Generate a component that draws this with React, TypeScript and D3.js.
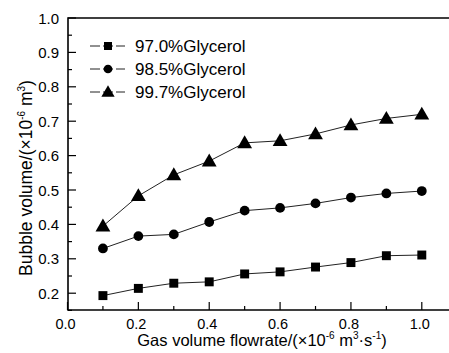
import React, { useEffect, useRef } from 'react';
import * as d3 from 'd3';

const flowrates = [0.1, 0.2, 0.3, 0.4, 0.5, 0.6, 0.7, 0.8, 0.9, 1.0];
const glycerol970 = [0.193, 0.214, 0.229, 0.233, 0.256, 0.262, 0.276, 0.289, 0.309, 0.311];
const glycerol985 = [0.330, 0.366, 0.371, 0.407, 0.440, 0.448, 0.461, 0.478, 0.490, 0.497];
const glycerol997 = [0.395, 0.483, 0.544, 0.584, 0.637, 0.643, 0.663, 0.689, 0.708, 0.720];
const seriesNames = ['97.0%Glycerol', '98.5%Glycerol', '99.7%Glycerol'];
const xTicks = [0.0, 0.2, 0.4, 0.6, 0.8, 1.0];
const yTicks = [0.2, 0.3, 0.4, 0.5, 0.6, 0.7, 0.8, 0.9, 1.0];

const W = 449;
const H = 353;

const App = () => {
  const svgRef = useRef<SVGSVGElement>(null);

  useEffect(() => {
    const svg = d3.select(svgRef.current);
    svg.selectAll('*').remove();

    const margin = { top: 18, right: -8, bottom: 43, left: 68 };
    const left = margin.left;
    const right = W - margin.right;
    const top = margin.top;
    const bottom = H - margin.bottom;

    const x = d3.scaleLinear().domain([0, 1]).range([67.5, 421.8]);
    const y = d3.scaleLinear().domain([0.2, 1.0]).range([293.2, 18]);

    const font = 'Liberation Sans, Arial, sans-serif';

    // frame
    svg.append('path')
      .attr('d', `M${right},${top}H${left}V${bottom}H${right}`)
      .attr('fill', 'none')
      .attr('stroke', '#000')
      .attr('stroke-width', 1.6);

    // y ticks (inward, major + minor)
    const yMinor = d3.range(0.15, 1.0001, 0.05);
    svg.append('g').selectAll('line')
      .data(yMinor)
      .enter()
      .append('line')
      .attr('x1', left)
      .attr('x2', d => left + (Math.round(d * 100) % 10 === 0 ? 8 : 4))
      .attr('y1', d => y(d))
      .attr('y2', d => y(d))
      .attr('stroke', '#000')
      .attr('stroke-width', 1.2);

    svg.append('g').selectAll('text')
      .data(yTicks)
      .enter()
      .append('text')
      .attr('x', left - 9)
      .attr('y', d => y(d) + 5.5)
      .attr('text-anchor', 'end')
      .style('font-family', font)
      .style('font-size', '15px')
      .text(d => d.toFixed(1));

    // x ticks
    const xMinor = d3.range(0, 1.0001, 0.1);
    svg.append('g').selectAll('line')
      .data(xMinor)
      .enter()
      .append('line')
      .attr('x1', d => x(d))
      .attr('x2', d => x(d))
      .attr('y1', bottom)
      .attr('y2', d => bottom - (Math.round(d * 10) % 2 === 0 ? 8 : 4))
      .attr('stroke', '#000')
      .attr('stroke-width', 1.2);

    svg.append('g').selectAll('text')
      .data(xTicks)
      .enter()
      .append('text')
      .attr('x', d => x(d) - 2)
      .attr('y', bottom + 18.5)
      .attr('text-anchor', 'middle')
      .style('font-family', font)
      .style('font-size', '14.5px')
      .text(d => d.toFixed(1));

    // axis titles
    const xTitle = svg.append('text')
      .attr('x', 262)
      .attr('y', 346)
      .attr('text-anchor', 'middle')
      .style('font-family', font)
      .style('font-size', '16.5px');
    xTitle.append('tspan').text('Gas volume flowrate/(\u00d710');
    xTitle.append('tspan').attr('dy', -7).style('font-size', '10px').text('-6');
    xTitle.append('tspan').attr('dy', 7).text(' m');
    xTitle.append('tspan').attr('dy', -7).style('font-size', '10px').text('3');
    xTitle.append('tspan').attr('dy', 7).text('\u00b7s');
    xTitle.append('tspan').attr('dy', -7).style('font-size', '10px').text('-1');
    xTitle.append('tspan').attr('dy', 7).text(')');

    const yTitle = svg.append('text')
      .attr('transform', 'translate(32,178) rotate(-90)')
      .attr('text-anchor', 'middle')
      .style('font-family', font)
      .style('font-size', '17.5px');
    yTitle.append('tspan').text('Bubble volume/(\u00d710');
    yTitle.append('tspan').attr('dy', -7).style('font-size', '10px').text('-6');
    yTitle.append('tspan').attr('dy', 7).text(' m');
    yTitle.append('tspan').attr('dy', -7).style('font-size', '10px').text('3');
    yTitle.append('tspan').attr('dy', 7).text(')');

    const allSeries = [glycerol970, glycerol985, glycerol997];
    const symbols = [d3.symbolSquare, d3.symbolCircle, d3.symbolTriangle];
    const sizes = [80, 75, 95];

    const line = d3.line<number>()
      .x((d, i) => x(flowrates[i]))
      .y(d => y(d));

    allSeries.forEach((vals, si) => {
      svg.append('path')
        .datum(vals)
        .attr('d', line)
        .attr('fill', 'none')
        .attr('stroke', '#222')
        .attr('stroke-width', 1);

      svg.append('g').selectAll('path')
        .data(vals)
        .enter()
        .append('path')
        .attr('d', d3.symbol().type(symbols[si]).size(sizes[si]))
        .attr('transform', (d, i) => `translate(${x(flowrates[i])},${y(d) + (si === 2 ? 1 : 0)})`)
        .attr('fill', '#000');
    });

    // legend
    const legendY = [46, 69, 92];
    const legend = svg.append('g');
    seriesNames.forEach((name, i) => {
      legend.append('line')
        .attr('x1', 90).attr('x2', 125)
        .attr('y1', legendY[i]).attr('y2', legendY[i])
        .attr('stroke', '#222').attr('stroke-width', 1);
      legend.append('rect')
        .attr('x', 100).attr('y', legendY[i] - 6).attr('width', 3).attr('height', 12)
        .attr('fill', '#fff');
      legend.append('rect')
        .attr('x', 113).attr('y', legendY[i] - 6).attr('width', 3).attr('height', 12)
        .attr('fill', '#fff');
      legend.append('path')
        .attr('d', d3.symbol().type(symbols[i]).size(sizes[i] * 0.8))
        .attr('transform', `translate(108,${legendY[i] + (i === 2 ? 1 : 0)})`)
        .attr('fill', '#000');
      legend.append('text')
        .attr('x', 135)
        .attr('y', legendY[i] + 6)
        .style('font-family', font)
        .style('font-size', '17px')
        .text(name);
    });
  }, []);

  return (
    <svg
      ref={svgRef}
      width={W}
      height={H}
      style={{ position: 'absolute', left: 0, top: 0, background: '#fff' }}
    />
  );
};

export default App;
